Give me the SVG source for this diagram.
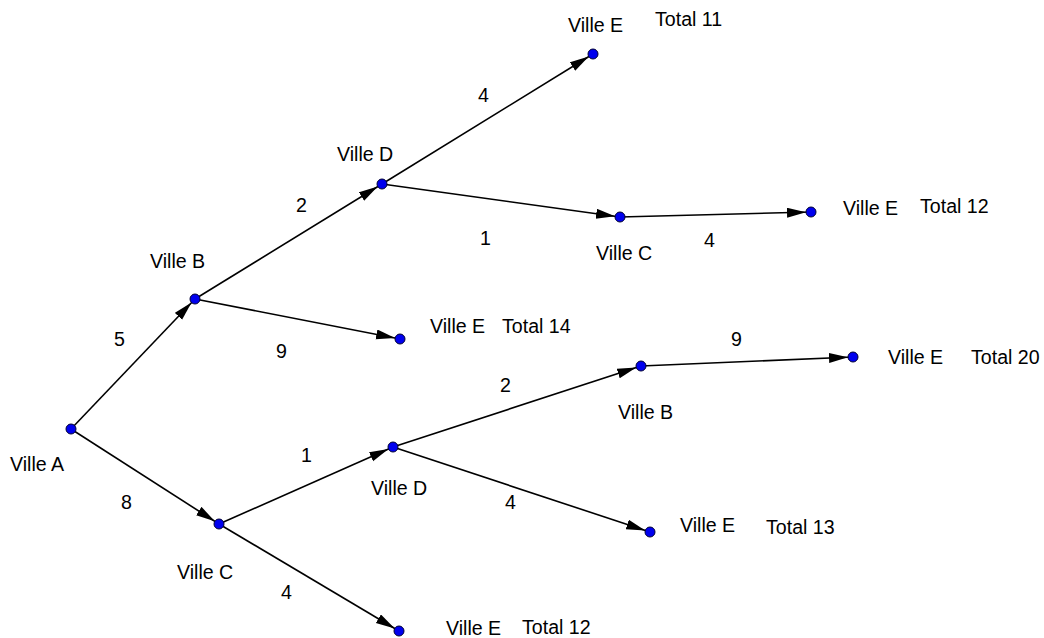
<svg xmlns="http://www.w3.org/2000/svg" width="1044" height="638" viewBox="0 0 1044 638">
<style>
text{font-family:"Liberation Sans",Arial,sans-serif;font-size:19.6px;fill:#000}
.e{stroke:#000;stroke-width:1.6;fill:none;marker-end:url(#ar)}
.n{fill:#0000ee;stroke:#000033;stroke-width:1}
</style>
<defs>
<marker id="ar" markerUnits="userSpaceOnUse" markerWidth="30" markerHeight="12" viewBox="0 0 30 12" refX="24" refY="5" orient="auto">
<path d="M0,0 L19,5 L0,10 z" fill="#000"/>
</marker>
</defs>
<rect width="1044" height="638" fill="#fff"/>
<g id="connectors">
<line class="e" x1="71" y1="429" x2="195" y2="299"/>
<line class="e" x1="71" y1="429" x2="219" y2="524"/>
<line class="e" x1="195" y1="299" x2="382" y2="184"/>
<line class="e" x1="195" y1="299" x2="400" y2="339"/>
<line class="e" x1="382" y1="184" x2="593" y2="54"/>
<line class="e" x1="382" y1="184" x2="620" y2="217"/>
<line class="e" x1="620" y1="217" x2="811" y2="212"/>
<line class="e" x1="219" y1="524" x2="393" y2="447"/>
<line class="e" x1="219" y1="524" x2="399" y2="631"/>
<line class="e" x1="393" y1="447" x2="641" y2="366"/>
<line class="e" x1="393" y1="447" x2="650" y2="532"/>
<line class="e" x1="641" y1="366" x2="853" y2="357"/>
<text x="114" y="346">5</text>
<text x="121" y="509">8</text>
<text x="296" y="212">2</text>
<text x="276" y="358">9</text>
<text x="478" y="102">4</text>
<text x="480" y="245">1</text>
<text x="704" y="247">4</text>
<text x="301" y="462">1</text>
<text x="281" y="599">4</text>
<text x="500" y="392">2</text>
<text x="505" y="509">4</text>
<text x="731" y="346">9</text>
</g>
<g id="villeA"><circle class="n" cx="71" cy="429" r="5"/><text x="10" y="471">Ville A</text></g>
<g id="villeB1"><circle class="n" cx="195" cy="299" r="5"/><text x="150" y="268">Ville B</text></g>
<g id="villeC1"><circle class="n" cx="219" cy="524" r="5"/><text x="177" y="579">Ville C</text></g>
<g id="villeD1"><circle class="n" cx="382" cy="184" r="5"/><text x="337" y="161">Ville D</text></g>
<g id="villeE1"><circle class="n" cx="593" cy="54" r="5"/><text x="568" y="32">Ville E</text><text x="655" y="26">Total 11</text></g>
<g id="villeC2"><circle class="n" cx="620" cy="217" r="5"/><text x="596" y="260">Ville C</text></g>
<g id="villeE2"><circle class="n" cx="811" cy="212" r="5"/><text x="843" y="215">Ville E</text><text x="920" y="213">Total 12</text></g>
<g id="villeE3"><circle class="n" cx="400" cy="339" r="5"/><text x="430" y="333">Ville E</text><text x="502" y="333">Total 14</text></g>
<g id="villeD2"><circle class="n" cx="393" cy="447" r="5"/><text x="371" y="495">Ville D</text></g>
<g id="villeB2"><circle class="n" cx="641" cy="366" r="5"/><text x="618" y="419">Ville B</text></g>
<g id="villeE4"><circle class="n" cx="853" cy="357" r="5"/><text x="888" y="364">Ville E</text><text x="971" y="364">Total 20</text></g>
<g id="villeE5"><circle class="n" cx="650" cy="532" r="5"/><text x="680" y="532">Ville E</text><text x="766" y="534">Total 13</text></g>
<g id="villeE6"><circle class="n" cx="399" cy="631" r="5"/><text x="446" y="635">Ville E</text><text x="522" y="634">Total 12</text></g>
</svg>
